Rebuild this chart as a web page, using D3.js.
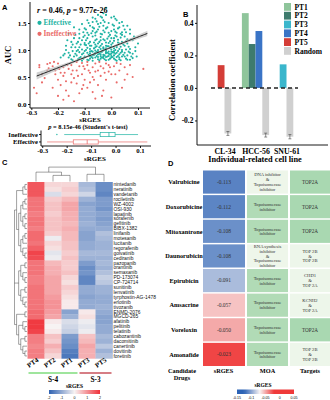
<!DOCTYPE html>
<html><head><meta charset="utf-8">
<script src="https://cdn.jsdelivr.net/npm/d3@7"></script>
<style>body{margin:0;background:#fff}svg{display:block}</style>
</head><body><svg id="c" width="330" height="400"></svg>
<script>
// ---------------- DATA ----------------
// Panel A scatter (sRGES, AUC)
const effectivePts = [[-0.10,0.88],[-0.09,0.95],[-0.08,0.84],[-0.08,1.02],[-0.07,0.90],[-0.07,0.97],[-0.06,0.86],[-0.06,1.05],[-0.05,0.92],[-0.05,0.83],[-0.05,1.00],[-0.04,0.88],[-0.04,0.95],[-0.04,1.08],[-0.03,0.85],[-0.03,0.91],[-0.03,0.99],[-0.02,0.87],[-0.02,0.94],[-0.02,1.03],[-0.01,0.82],[-0.01,0.89],[-0.01,0.97],[0.00,0.86],[0.00,0.93],[0.00,1.01],[0.01,0.84],[0.01,0.90],[0.01,0.98],[0.02,0.87],[0.02,0.95],[0.03,0.83],[0.03,0.92],[0.04,0.88],[-0.09,0.82],[-0.11,0.92],[-0.12,0.85],[-0.13,0.98],[-0.14,0.88],[-0.15,0.83],[-0.12,1.05],[-0.10,1.10],[-0.08,1.15],[-0.06,1.18],[-0.05,1.12],[-0.03,1.20],[-0.02,1.14],[-0.01,1.25],[0.00,1.10],[0.01,1.17],[0.02,1.05],[0.03,1.12],[0.04,1.00],[0.05,0.95],[0.06,0.90],[0.05,1.08],[0.07,1.02],[0.08,0.93],[0.06,1.20],[0.04,1.28],[0.02,1.32],[0.00,1.35],[-0.02,1.40],[-0.04,1.30],[-0.06,1.27],[-0.07,1.35],[-0.09,1.22],[-0.11,1.18],[-0.13,1.12],[-0.15,1.05],[-0.16,0.95],[-0.17,1.00],[-0.18,0.90],[-0.14,1.22],[-0.12,1.30],[-0.10,1.40],[-0.08,1.45],[-0.05,1.48],[-0.03,1.55],[-0.01,1.50],[0.01,1.45],[0.03,1.42],[0.05,1.38],[0.07,1.30],[0.08,1.18],[0.09,1.05],[-0.06,1.58],[-0.04,1.62],[-0.02,1.65],[-0.07,1.52],[-0.09,1.55],[-0.11,1.48],[0.00,1.60],[0.02,1.55],[-0.02,1.78],[0.00,1.22],[-0.04,1.18],[-0.08,1.08],[-0.07,1.25],[-0.03,1.05],[0.02,1.25],[0.04,1.15],[-0.01,1.07],[-0.05,1.38],[-0.09,1.32],[-0.12,1.38],[-0.03,1.45],[0.01,1.38],[0.05,1.25],[-0.10,0.98],[-0.06,0.93],[-0.02,0.81],[0.02,0.80],[-0.07,0.80],[-0.11,0.80],[0.06,0.82],[0.08,0.85],[0.04,0.97],[-0.13,0.90],[-0.08,0.89],[0.03,1.02],[-0.01,1.13],[-0.04,1.24],[-0.06,1.10],[-0.10,1.27],[0.06,1.12],[0.085,1.25],[-0.15,1.15],[-0.16,1.30],[-0.14,1.42],[-0.07,1.42],[-0.04,1.50],[0.03,1.50],[-0.01,1.32],[-0.03,1.36],[-0.05,0.97],[0.00,0.97],[-0.02,0.99],[-0.04,1.02],[0.01,1.03],[-0.09,1.04],[-0.12,0.96],[0.05,0.88],[0.07,0.95],[-0.03,0.88],[-0.06,0.99],[0.00,0.89],[-0.01,0.93],[-0.05,0.87],[-0.07,0.85],[-0.02,1.08],[0.02,1.08],[-0.11,1.01],[0.03,0.86],[-0.08,0.93],[-0.04,0.84],[0.01,1.22],[-0.06,1.32],[-0.12,1.22],[-0.10,1.13],[0.04,1.33],[0.06,1.45],[-0.17,1.08],[-0.19,0.86],
[-0.075,0.87],[-0.065,0.91],[-0.055,0.89],[-0.045,0.93],[-0.035,0.86],[-0.025,0.90],[-0.015,0.88],[-0.005,0.92],[0.005,0.87],[0.015,0.93],[0.025,0.89],[0.035,0.95],[-0.075,0.98],[-0.065,1.03],[-0.055,0.96],[-0.045,1.05],[-0.035,0.97],[-0.025,1.01],[-0.015,0.95],[-0.005,1.04],[0.005,0.96],[0.015,1.00],[0.025,0.98],[0.035,1.06],[-0.085,0.91],[-0.095,1.00],[-0.105,0.94],[-0.115,0.87],[-0.125,1.00],[-0.135,0.93],[-0.145,0.98],[-0.155,0.90],[0.045,0.91],[0.055,1.01],[0.065,0.97],[0.075,0.88],[0.045,1.10],[0.065,1.06],[-0.085,1.12],[-0.075,1.08],[-0.065,1.14],[-0.055,1.20],[-0.045,1.15],[-0.035,1.11],[-0.025,1.18],[-0.015,1.21],[-0.005,1.16],[0.005,1.13],[0.015,1.27],[0.025,1.19],[0.035,1.23],[-0.095,1.18],[-0.105,1.24],[-0.115,1.10],[-0.125,1.15],[-0.135,1.05],[-0.145,1.10],[-0.085,1.28],[-0.075,1.31],[-0.055,1.34],[-0.035,1.29],[-0.025,1.33],[-0.005,1.28],[0.015,1.34],[0.035,1.30],[0.055,1.33],[0.075,1.20],[-0.095,1.38],[-0.065,1.40],[-0.045,1.43],[-0.015,1.42],[0.005,1.47],[0.025,1.40],[0.045,1.45],[-0.055,1.53],[-0.025,1.52],[-0.035,1.60],[0.015,1.58],[-0.085,1.50],[-0.105,1.33],[-0.135,1.28],[-0.165,1.18],[-0.175,0.93],[-0.16,0.86],[-0.145,0.81],[-0.125,0.83],[-0.105,0.84],[-0.085,0.81],[-0.045,0.81],[-0.025,0.83],[-0.005,0.84],[0.015,0.82],[0.035,0.81],[0.055,0.84],[0.07,0.82],[0.09,0.98],[0.10,1.12],[0.095,0.88],[-0.03,1.68],[-0.05,1.65],[0.01,1.62],[-0.07,1.60],[0.04,1.52],[0.07,1.38],[-0.015,1.07],[-0.055,1.07],[-0.095,1.09],[0.025,1.14],[0.055,1.16],[-0.02,0.96],[-0.06,0.95],[0.01,0.95],[-0.04,0.91],[-0.08,0.97],[0.00,1.06],[-0.03,1.03]];
const ineffectivePts = [[-0.29,0.30],[-0.27,0.68],[-0.26,0.55],[-0.24,0.74],[-0.23,0.76],[-0.22,0.70],[-0.25,0.48],[-0.21,0.62],[-0.20,0.45],[-0.20,0.75],[-0.19,0.58],[-0.19,0.35],[-0.18,0.68],[-0.18,0.52],[-0.17,0.42],[-0.17,0.25],[-0.16,0.65],[-0.16,0.15],[-0.15,0.55],[-0.15,0.72],[-0.14,0.48],[-0.14,0.05],[-0.13,0.62],[-0.13,0.38],[-0.12,0.70],[-0.12,0.20],[-0.11,0.55],[-0.11,0.76],[-0.10,0.45],[-0.10,0.65],[-0.09,0.30],[-0.09,0.72],[-0.08,0.58],[-0.08,0.40],[-0.07,0.68],[-0.07,0.50],[-0.06,0.75],[-0.06,0.10],[-0.05,0.62],[-0.05,0.35],[-0.04,0.70],[-0.04,0.52],[-0.03,0.25],[-0.03,0.66],[-0.02,0.75],[-0.02,0.45],[-0.01,0.60],[-0.01,0.72],[0.00,0.12],[0.00,0.55],[0.01,0.70],[0.02,0.40],[0.02,0.76],[0.03,0.62],[0.04,0.30],[0.05,0.68],[0.05,0.45],[0.07,0.72],[0.12,0.65],[-0.22,0.30],[-0.28,0.20],[-0.24,0.62],[-0.21,0.55],[-0.13,0.78],[-0.15,0.40],[-0.09,0.78],[-0.06,0.60],[-0.11,0.28],[-0.07,0.22],[0.06,0.55],[-0.20,0.15],[-0.26,0.40],
[-0.235,0.66],[-0.215,0.78],[-0.195,0.65],[-0.175,0.58],[-0.165,0.72],[-0.145,0.62],[-0.125,0.52],[-0.105,0.70],[-0.085,0.62],[-0.065,0.45],[-0.045,0.78],[-0.025,0.58],[-0.005,0.68],[0.015,0.55],[0.035,0.74],[-0.18,0.08],[-0.27,0.72],[-0.105,0.35],[0.08,0.50],[-0.035,0.15]];
const fitIntercept = 1.05, fitSlope = 1.9, fitRange = [-0.28, 0.135];
const bandBase = 0.018, bandCurv = 0.9, bandCenter = -0.05;
const aTicksX = [-0.3, -0.2, -0.1, 0.0, 0.1];
const aTicksY = [0.0, 0.5, 1.0, 1.5];
// Box plot summaries: [lowWhisker, q1, median, q3, highWhisker]
const boxGroups = ["Ineffective", "Effective"];
const boxStats = [[-0.21, -0.063, -0.027, -0.002, 0.092], [-0.28, -0.173, -0.116, -0.071, 0.13]];
const boxOutliers = [[-0.24], []];

// Panel B
const cellLines = ["CL-34", "HCC-56", "SNU-61"];
const seriesNames = ["PT1", "PT2", "PT3", "PT4", "PT5", "Random"];
const ptValues = [[null, null, null, null, 0.14], [0.46, 0.27, null, 0.35, null], [null, null, 0.145, null, null]];
const randomValues = [-0.28, -0.29, -0.30];
const randomErr = [0.012, 0.012, 0.013];
const bTicksY = [-0.2, 0.0, 0.2, 0.4];

// Panel C heatmap
const hmCols = ["PT4", "PT2", "PT1", "PT3", "PT5"];
const hmRows = ["nintedanib","neratinib","vandetanib","rociletinib","WZ-4002","OSI-930","lapatinib","sorafenib","gefitinib","BIBX-1382","linifanib","motesanib","lucitanib","regorafenib","golvatinib","cediranib","pazopanib","orantinib","semaxanib","PD-173074","CP-724714","sunitinib","lenvatinib","tyrphostin-AG-1478","erlotinib","tivozanib","ENMD-2076","MGCD-265","afatinib","pelitinib","telatinib","cabozantinib","dacomitinib","canertinib","dovitinib","foretinib"];
const hmValues = [[1.6,0.3,0.3,-0.8,-1.4],[1.6,0.2,0.4,-0.7,-1.4],[1.6,-0.3,0.3,-0.4,-1.5],[1.3,0.4,0.6,-0.9,-1.2],[1.3,0.5,0.8,-1.1,-1.2],[1.3,0.5,0.8,-1.0,-1.3],[1.2,0.4,0.7,-1.0,-1.1],[1.3,0.5,0.7,-1.0,-1.2],[1.3,0.5,0.6,-0.9,-1.1],[1.2,0.5,0.7,-1.0,-1.0],[1.4,0.4,0.6,-1.1,-0.7],[1.4,-0.1,0.6,-1.1,-0.8],[1.3,0.3,0.5,-1.0,-0.9],[1.5,0.2,0.5,-1.0,-0.9],[1.8,-0.2,0.4,-0.8,-0.8],[1.7,-0.1,0.5,-0.9,-0.9],[1.3,0.6,0.4,-1.2,-0.8],[1.3,0.7,0.4,-1.4,-0.9],[1.3,0.7,0.5,-1.3,-0.7],[1.2,0.8,0.3,-1.5,-0.5],[1.2,0.8,0.2,-1.5,-0.6],[1.3,0.8,0.4,-1.0,-0.9],[1.3,0.8,0.3,-1.0,-0.9],[1.3,0.9,0.2,-1.1,-1.0],[1.3,1.0,0.1,-1.0,-1.0],[1.3,1.0,0.1,-1.0,-0.9],[1.4,0.9,-1.1,0.1,-1.0],[1.4,0.8,-0.9,0.2,-1.1],[1.9,0.1,-0.3,-0.1,-1.1],[1.9,0.0,-0.4,-0.2,-1.0],[1.8,0.1,-0.5,-0.1,-1.0],[1.2,0.5,-1.2,0.5,-0.8],[1.2,0.4,-1.3,0.6,-0.9],[1.1,0.7,-1.4,0.8,-0.6],[1.2,0.5,-1.6,0.7,-0.9],[1.2,0.3,-1.7,0.7,-0.7]];
const rowTree = [[[[0,1],2],[[[[3,4],5],[[6,7],[8,9]]],[[[10,11],12],[13,[14,15]]]]],[[[[16,17],[18,[19,20]]],[[21,22],[23,[24,25]]]]],[[26,27],[[28,[29,30]],[[31,32],[33,[34,35]]]]]];
const colTree = {h: 4, c: [{h: 2.6, c: [0, {h: 1.7, c: [1, 2]}]}, {h: 2.0, c: [3, 4]}]};
const colGroups = [{name: "S-4", from: 0, to: 2, color: "#7fdc7c"}, {name: "S-3", from: 3, to: 4, color: "#c9535c"}];
const hmLegendTicks = [-2, -1, 0, 1, 2];

// Panel D table
const dDrugs = ["Valrubicine","Doxorubicine","Mitoxantrone","Daunorubicin","Epirubicin","Amsacrine","Voreloxin","Amonafide"];
const dScores = [-0.113, -0.112, -0.108, -0.108, -0.091, -0.057, -0.050, -0.023];
const dMOA = ["DNA inhibitor|&|Topoisomerase|inhibitor","Topoisomerase|inhibitor","Topoisomerase|inhibitor","RNA synthesis|inhibitor|&|Topoisomerase|inhibitor","Topoisomerase|inhibitor","Topoisomerase|inhibitor","Topoisomerase|inhibitor","Topoisomerase|inhibitor"];
const dTargets = ["TOP2A","TOP2A","TOP2A","TOP 2B|&|TOP 2B","CHD1|&|TOP 2A","KCNH2|&|TOP 2A","TOP2A","TOP 2B|&|TOP 2B"];
const dLegendTicks = [-0.15, -0.1, -0.05, 0, 0.05];

// ---------------- DRAW ----------------
const svg = d3.select("#c");
const SERIF = "'Liberation Serif','Times New Roman',serif";
const SANS = "'Liberation Sans',Arial,sans-serif";
const fmt1 = v => v.toFixed(1);

function styleAxis(g, size) {
  g.selectAll("path,line").attr("stroke", "#000").attr("stroke-width", 0.9);
  g.selectAll("text").attr("font-family", SERIF).attr("font-weight", "bold").attr("font-size", size).attr("fill", "#000");
}
function letter(t, x, y) {
  svg.append("text").attr("x", x).attr("y", y).text(t).attr("font-family", SANS).attr("font-weight", "bold").attr("font-size", 7.5);
}

// ===== Panel A =====
letter("A", 2, 10);
const ax = d3.scaleLinear().domain([-0.305, 0.145]).range([30, 150]);
const ay = d3.scaleLinear().domain([-0.074, 1.889]).range([108, 2]);
const gA = svg.append("g");
gA.selectAll(".ip").data(ineffectivePts).join("circle").attr("cx", d => ax(d[0])).attr("cy", d => ay(d[1])).attr("r", 1.05).attr("fill", "#ea6b69");
gA.selectAll(".ep").data(effectivePts).join("circle").attr("cx", d => ax(d[0])).attr("cy", d => ay(d[1])).attr("r", 1.05).attr("fill", "#1db3a3");
const fx = d3.range(fitRange[0], fitRange[1] + 1e-9, 0.005);
const half = x => bandBase + bandCurv * (x - bandCenter) * (x - bandCenter);
const fit = x => fitIntercept + fitSlope * x;
gA.append("path").datum(fx).attr("d", d3.area().x(d => ax(d)).y0(d => ay(fit(d) - half(d))).y1(d => ay(fit(d) + half(d))))
  .attr("fill", "#bdbdbd").attr("opacity", 0.7);
gA.append("path").datum(fx).attr("d", d3.line().x(d => ax(d)).y(d => ay(fit(d)))).attr("fill", "none").attr("stroke", "#222").attr("stroke-width", 1);
const axA = gA.append("g").attr("transform", "translate(0,108)").call(d3.axisBottom(ax).tickValues(aTicksX).tickFormat(fmt1).tickSize(2).tickPadding(0.5));
styleAxis(axA, 6.8);
const ayA = gA.append("g").attr("transform", "translate(30,0)").call(d3.axisLeft(ay).tickValues(aTicksY).tickFormat(fmt1).tickSize(2).tickPadding(1.5));
styleAxis(ayA, 7);
axA.select(".domain").attr("d", "M30,0H150");
ayA.select(".domain").attr("d", "M0,2V108");
gA.append("text").attr("transform", "translate(11,55) rotate(-90)").attr("text-anchor", "middle").attr("font-family", SERIF).attr("font-size", 8.5).attr("font-weight", "bold").text("AUC");
gA.append("text").attr("x", 90).attr("y", 121.6).attr("text-anchor", "middle").attr("font-family", SERIF).attr("font-size", 6.9).attr("font-weight", "bold").text("sRGES");
const st = gA.append("text").attr("x", 37).attr("y", 13).attr("font-family", SERIF).attr("font-size", 8).attr("font-weight", "bold");
st.append("tspan").attr("font-style", "italic").text("r");
st.append("tspan").text(" = 0.46, ");
st.append("tspan").attr("font-style", "italic").text("p");
st.append("tspan").text(" = 9.77e-26");
[["Effective", "#1db3a3", 25], ["Ineffective", "#ea6b69", 36]].forEach(([t, c, y]) => {
  gA.append("circle").attr("cx", 39.5).attr("cy", y - 2.2).attr("r", 2.1).attr("fill", c);
  gA.append("text").attr("x", 43.5).attr("y", y).attr("font-family", SERIF).attr("font-size", 7.3).attr("font-weight", "bold").attr("fill", c).text(t);
});
const pt = gA.append("text").attr("x", 88).attr("y", 129.2).attr("text-anchor", "middle").attr("font-family", SERIF).attr("font-size", 6.4).attr("font-weight", "bold");
pt.append("tspan").attr("font-style", "italic").text("p");
pt.append("tspan").text(" = 8.15e-46 (Student's t-test)");

// Box plot
const bx = d3.scaleLinear().domain([-0.305, 0.145]).range([41, 151]);
const by = d3.scaleBand().domain(boxGroups).range([130.5, 146]).padding(0.1);
const boxColors = ["#1db3a3", "#ea6b69"];
const gBox = svg.append("g");
boxGroups.forEach((g, i) => {
  const s = boxStats[i], cy = by(g) + by.bandwidth() / 2, h = 4.2, c = boxColors[i];
  gBox.append("line").attr("x1", bx(s[0])).attr("x2", bx(s[1])).attr("y1", cy).attr("y2", cy).attr("stroke", c).attr("stroke-width", 0.7);
  gBox.append("line").attr("x1", bx(s[3])).attr("x2", bx(s[4])).attr("y1", cy).attr("y2", cy).attr("stroke", c).attr("stroke-width", 0.7);
  gBox.append("rect").attr("x", bx(s[1])).attr("y", cy - h / 2).attr("width", bx(s[3]) - bx(s[1])).attr("height", h).attr("fill", "#fff").attr("stroke", c).attr("stroke-width", 0.7);
  gBox.append("line").attr("x1", bx(s[2])).attr("x2", bx(s[2])).attr("y1", cy - h / 2).attr("y2", cy + h / 2).attr("stroke", c).attr("stroke-width", 0.8);
  boxOutliers[i].forEach(o => gBox.append("circle").attr("cx", bx(o)).attr("cy", cy).attr("r", 0.7).attr("fill", c));
});
const bxA = gBox.append("g").attr("transform", "translate(0,146)").call(d3.axisBottom(bx).tickValues(aTicksX).tickFormat(fmt1).tickSize(2).tickPadding(0.5));
styleAxis(bxA, 6.8);
bxA.select(".domain").attr("d", "M41,0H151");
const byA = gBox.append("g").attr("transform", "translate(41,0)").call(d3.axisLeft(by).tickSize(2).tickPadding(1));
styleAxis(byA, 6.6);
byA.select(".domain").attr("d", "M0,130.5V146");
gBox.append("text").attr("x", 95).attr("y", 160.6).attr("text-anchor", "middle").attr("font-family", SERIF).attr("font-size", 7).attr("font-weight", "bold").text("sRGES");

// ===== Panel B =====
letter("B", 183, 17);
const yB = d3.scaleLinear().domain([-0.351, 0.51]).range([145, 5]);
const xB = d3.scalePoint().domain(cellLines).range([224.5, 286.5]);
const colorB = d3.scaleOrdinal().domain(seriesNames).range(["#8fc59b", "#3e7b6d", "#3ab6cc", "#3a74c6", "#d43d37", "#d0d0d0"]);
const bw = 6.8;
const gB = svg.append("g");
const barList = [];
cellLines.forEach((cl, i) => {
  const items = [];
  ptValues[i].forEach((v, k) => { if (v !== null) items.push({s: seriesNames[k], v}); });
  items.push({s: "Random", v: randomValues[i], e: randomErr[i]});
  const start = xB(cl) - items.length * bw / 2;
  items.forEach((it, j) => barList.push({...it, x: start + j * bw}));
});
gB.selectAll("rect.bar").data(barList).join("rect").attr("x", d => d.x).attr("width", bw)
  .attr("y", d => yB(Math.max(0, d.v))).attr("height", d => Math.abs(yB(d.v) - yB(0))).attr("fill", d => colorB(d.s));
barList.filter(d => d.e).forEach(d => {
  const cx = d.x + bw / 2;
  gB.append("line").attr("x1", cx).attr("x2", cx).attr("y1", yB(d.v - d.e)).attr("y2", yB(d.v + d.e)).attr("stroke", "#444").attr("stroke-width", 0.6);
  [d.v - d.e, d.v + d.e].forEach(v => gB.append("line").attr("x1", cx - 1.5).attr("x2", cx + 1.5).attr("y1", yB(v)).attr("y2", yB(v)).attr("stroke", "#444").attr("stroke-width", 0.6));
});
gB.append("line").attr("x1", 211).attr("x2", 298).attr("y1", yB(0)).attr("y2", yB(0)).attr("stroke", "#222").attr("stroke-width", 1.4).attr("stroke-dasharray", "4,3");
const yBA = gB.append("g").attr("transform", "translate(197,0)").call(d3.axisLeft(yB).tickValues(bTicksY).tickFormat(fmt1).tickSize(2).tickPadding(1.5));
styleAxis(yBA, 7.5);
yBA.select(".domain").attr("d", "M0,5V145");
const xBA = gB.append("g").attr("transform", "translate(0,145)").call(d3.axisBottom(xB).tickSize(0).tickPadding(3.5));
styleAxis(xBA, 7.8);
xBA.select(".domain").attr("d", "M197,0H328");
gB.append("text").attr("x", 255).attr("y", 162).attr("text-anchor", "middle").attr("font-family", SERIF).attr("font-size", 8.3).attr("font-weight", "bold").text("Individual-related cell line");
gB.append("text").attr("transform", "translate(175,80) rotate(-90)").attr("text-anchor", "middle").attr("font-family", SERIF).attr("font-size", 8.5).attr("font-weight", "bold").text("Correlation coefficient");
seriesNames.forEach((s, i) => {
  gB.append("rect").attr("x", 284).attr("y", 3 + i * 8.8).attr("width", 7).attr("height", 7.8).attr("fill", colorB(s));
  gB.append("text").attr("x", 294.5).attr("y", 9.5 + i * 8.8).attr("font-family", SERIF).attr("font-size", 7.5).attr("font-weight", "bold").text(s);
});

// ===== Panel C =====
letter("C", 2, 165);
const hx = d3.scaleBand().domain(hmCols).range([27.5, 112.5]);
const hy = d3.scaleBand().domain(hmRows).range([182, 358.4]);
const hColor = d3.scaleLinear().domain([-2, 0, 2]).range(["#2e62b2", "#f7f3f3", "#f03038"]).clamp(true);
const gC = svg.append("g");
hmValues.forEach((row, r) => row.forEach((v, c) => {
  gC.append("rect").attr("x", hx(hmCols[c])).attr("y", hy(hmRows[r])).attr("width", hx.bandwidth() + 0.3).attr("height", hy.bandwidth() + 0.3).attr("fill", hColor(v));
}));
gC.selectAll("text.rl").data(hmRows).join("text").attr("x", 113.5).attr("y", d => hy(d) + hy.bandwidth() / 2 + 1.7)
  .attr("font-family", SANS).attr("font-size", 4.9).attr("fill", "#111").text(d => d);
function depth(n) { return Array.isArray(n) ? 1 + d3.max(n, depth) : 0; }
const maxH = depth(rowTree);
const rdx = h => 27 - h / maxH * 12.5;
function drawRow(n) {
  if (!Array.isArray(n)) return {y: hy(hmRows[n]) + hy.bandwidth() / 2, h: 0};
  const kids = n.map(drawRow), h = depth(n), x = rdx(h);
  kids.forEach(k => gC.append("line").attr("x1", x).attr("x2", rdx(k.h)).attr("y1", k.y).attr("y2", k.y).attr("stroke", "#444").attr("stroke-width", 0.5));
  gC.append("line").attr("x1", x).attr("x2", x).attr("y1", kids[0].y).attr("y2", kids[kids.length - 1].y).attr("stroke", "#444").attr("stroke-width", 0.5);
  return {y: d3.mean([kids[0].y, kids[kids.length - 1].y]), h};
}
drawRow(rowTree);
const cdy = h => 181.5 - h * 3.6;
function drawCol(n) {
  if (typeof n === "number") return {x: hx(hmCols[n]) + hx.bandwidth() / 2, h: 0};
  const kids = n.c.map(drawCol), y = cdy(n.h);
  kids.forEach(k => gC.append("line").attr("x1", k.x).attr("x2", k.x).attr("y1", y).attr("y2", cdy(k.h)).attr("stroke", "#444").attr("stroke-width", 0.5));
  gC.append("line").attr("x1", kids[0].x).attr("x2", kids[kids.length - 1].x).attr("y1", y).attr("y2", y).attr("stroke", "#444").attr("stroke-width", 0.5);
  return {x: (kids[0].x + kids[kids.length - 1].x) / 2, h: n.h};
}
drawCol(colTree);
hmCols.forEach(c => {
  gC.append("text").attr("transform", `translate(${hx(c) + hx.bandwidth() / 2 + 3},${361}) rotate(-35)`).attr("text-anchor", "end")
    .attr("font-family", SERIF).attr("font-size", 6.8).attr("font-weight", "bold").text(c);
});
colGroups.forEach(g => {
  const x1 = hx(hmCols[g.from]) + 1, x2 = hx(hmCols[g.to]) + hx.bandwidth() - 1;
  gC.append("line").attr("x1", x1).attr("x2", x2).attr("y1", 373).attr("y2", 373).attr("stroke", g.color).attr("stroke-width", 1.6);
  gC.append("text").attr("x", (x1 + x2) / 2).attr("y", 382).attr("text-anchor", "middle").attr("font-family", SERIF).attr("font-size", 7.3).attr("font-weight", "bold").text(g.name);
});
const hl = d3.scaleLinear().domain([-2, 2]).range([49, 100]);
const defs = svg.append("defs");
const g1 = defs.append("linearGradient").attr("id", "gC");
d3.range(0, 1.0001, 0.1).forEach(t => g1.append("stop").attr("offset", t).attr("stop-color", hColor(-2 + 4 * t)));
gC.append("rect").attr("x", 49).attr("y", 390).attr("width", 51).attr("height", 4).attr("fill", "url(#gC)");
gC.append("text").attr("x", 74.5).attr("y", 388).attr("text-anchor", "middle").attr("font-family", SERIF).attr("font-size", 5.5).attr("font-weight", "bold").text("sRGES");
hmLegendTicks.forEach(t => gC.append("text").attr("x", hl(t)).attr("y", 398.5).attr("text-anchor", "middle").attr("font-family", SANS).attr("font-size", 3.6).text(t));

// ===== Panel D =====
letter("D", 168, 166);
const dy = d3.scaleBand().domain(dDrugs).range([170.5, 366]).paddingInner(0.06);
const dColor = d3.scaleLinear().domain([-0.125, -0.07, -0.02]).range(["#2c63b6", "#f8f3f3", "#ef3a3a"]).clamp(true);
const gD = svg.append("g");
const colX = {name: 184, s: [203, 245], m: [247, 288], t: [290, 330]};
function multiText(g, str, cx, cy, size) {
  const lines = str.split("|"), lh = size * 1.05;
  const t = g.append("text").attr("text-anchor", "middle").attr("font-family", SERIF).attr("font-size", size).attr("fill", "#333");
  lines.forEach((l, i) => t.append("tspan").attr("x", cx).attr("y", cy + (i - (lines.length - 1) / 2) * lh + size * 0.35).text(l));
}
dDrugs.forEach((d, i) => {
  const y = dy(d), h = dy.bandwidth(), cy = y + h / 2;
  gD.append("text").attr("x", colX.name).attr("y", cy + 2.2).attr("text-anchor", "middle").attr("font-family", SERIF).attr("font-size", 6.3).attr("font-weight", "bold").text(d);
  gD.append("rect").attr("x", colX.s[0]).attr("y", y).attr("width", colX.s[1] - colX.s[0]).attr("height", h).attr("fill", dColor(dScores[i]));
  gD.append("text").attr("x", (colX.s[0] + colX.s[1]) / 2).attr("y", cy + 1.9).attr("text-anchor", "middle").attr("font-family", SERIF).attr("font-size", 5.5).attr("fill", "#333").text(dScores[i].toFixed(3));
  const mSingle = dMOA[i].indexOf("&") < 0;
  gD.append("rect").attr("x", colX.m[0]).attr("y", y).attr("width", colX.m[1] - colX.m[0]).attr("height", h).attr("fill", mSingle ? "#b1dbb6" : "#eef6ea");
  multiText(gD, dMOA[i], (colX.m[0] + colX.m[1]) / 2, cy, 4.6);
  const tSingle = dTargets[i].indexOf("&") < 0;
  gD.append("rect").attr("x", colX.t[0]).attr("y", y).attr("width", colX.t[1] - colX.t[0]).attr("height", h).attr("fill", tSingle ? "#a9d8b1" : "#edf6ea");
  multiText(gD, dTargets[i], (colX.t[0] + colX.t[1]) / 2, cy, tSingle ? 5.2 : 4.6);
});
[["Candidate|Drugs", 182], ["sRGES", 223.5], ["MOA", 267.5], ["Targets", 310]].forEach(([t, x]) => {
  const lines = t.split("|");
  const tx = gD.append("text").attr("text-anchor", "middle").attr("font-family", SERIF).attr("font-size", 6.3).attr("font-weight", "bold");
  lines.forEach((l, i) => tx.append("tspan").attr("x", x).attr("y", 373 + i * 7).text(l));
});
const dl = d3.scaleLinear().domain([-0.15, 0.05]).range([237, 294]);
const g2 = defs.append("linearGradient").attr("id", "gD");
d3.range(0, 1.0001, 0.05).forEach(t => g2.append("stop").attr("offset", t).attr("stop-color", dColor(-0.15 + 0.2 * t)));
gD.append("rect").attr("x", 237).attr("y", 389.5).attr("width", 57).attr("height", 4.5).attr("fill", "url(#gD)");
gD.append("text").attr("x", 263).attr("y", 387).attr("text-anchor", "middle").attr("font-family", SERIF).attr("font-size", 5.5).attr("font-weight", "bold").text("sRGES");
dLegendTicks.forEach(t => gD.append("text").attr("x", dl(t)).attr("y", 398.5).attr("text-anchor", "middle").attr("font-family", SANS).attr("font-size", 3.6).text(t));
</script></body></html>
